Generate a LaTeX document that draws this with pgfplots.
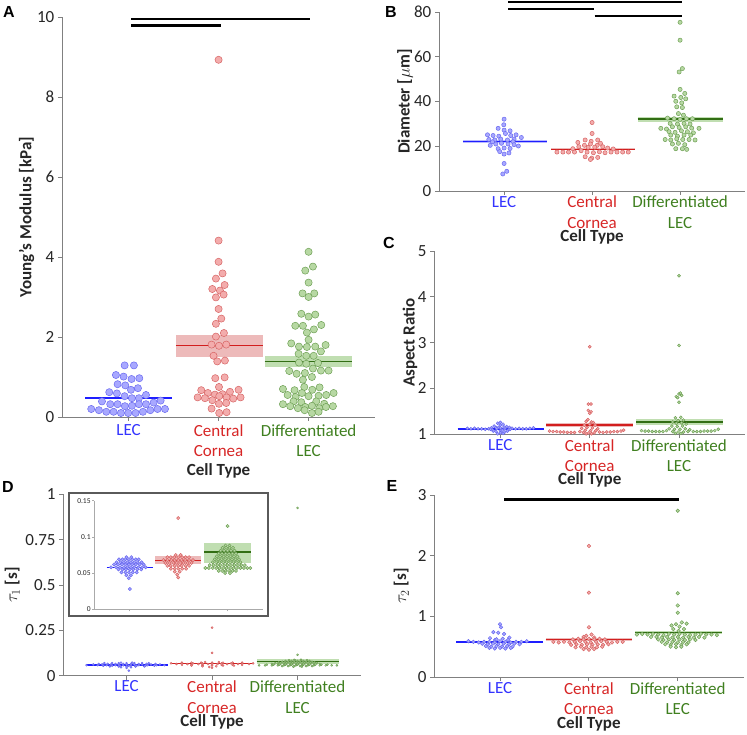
\documentclass[border=0pt]{standalone}
\usepackage{fontspec}
\setmainfont{Carlito}
\newfontfamily\letterfont{Liberation Sans}
\usepackage{pgfplots}
\usepackage{pgfplotstable}
\pgfplotsset{compat=1.18}

\definecolor{axgray}{RGB}{128,128,128}
\definecolor{tickgray}{RGB}{38,38,38}
\definecolor{lecC}{RGB}{51,51,255}
\definecolor{ccC}{RGB}{215,38,38}
\definecolor{dlC}{RGB}{64,128,32}
\definecolor{lecfill}{RGB}{168,168,255}
\definecolor{lecedge}{RGB}{105,105,240}
\definecolor{lecband}{RGB}{140,140,255}
\definecolor{lecline}{RGB}{30,30,255}
\definecolor{ccfill}{RGB}{243,172,172}
\definecolor{ccedge}{RGB}{215,100,100}
\definecolor{ccband}{RGB}{225,140,140}
\definecolor{ccline}{RGB}{210,30,30}
\definecolor{dlfill}{RGB}{183,216,163}
\definecolor{dledge}{RGB}{110,160,85}
\definecolor{dlband}{RGB}{150,200,125}
\definecolor{dlline}{RGB}{50,110,20}
\definecolor{framegray}{RGB}{90,90,90}
\definecolor{insetgray}{RGB}{170,170,170}

% ---------------- Panel A: Young's modulus ----------------
\pgfplotstableread{
x y
0.956 1.29
1.059 1.29
0.859 1.05
0.944 1.01
1.033 0.95
1.119 0.97
0.878 0.82
0.963 0.79
0.785 0.62
0.870 0.59
1.026 0.68
1.104 0.72
0.956 0.52
1.037 0.47
1.115 0.47
1.193 0.55
0.704 0.39
0.796 0.32
0.878 0.32
0.959 0.27
1.037 0.28
1.115 0.32
1.193 0.32
1.278 0.36
1.356 0.41
0.585 0.20
0.670 0.17
0.752 0.13
0.833 0.13
0.915 0.10
0.996 0.10
1.078 0.10
1.159 0.13
1.241 0.17
1.322 0.20
1.404 0.20
}\Alec
\pgfplotstableread{
x y
2.000 8.93
2.000 4.41
2.000 3.88
1.970 3.46
2.044 3.59
1.930 3.20
2.015 3.16
2.067 3.30
1.970 2.99
2.056 3.06
2.000 2.70
2.030 2.46
1.970 2.33
1.970 2.01
2.059 2.10
1.922 1.81
2.004 1.78
2.085 1.81
1.944 1.53
1.985 1.39
2.070 1.41
1.963 0.97
2.067 0.99
2.004 0.75
1.807 0.67
1.881 0.60
1.959 0.56
2.044 0.57
2.126 0.63
2.222 0.68
1.767 0.49
1.848 0.47
1.930 0.42
2.007 0.52
2.089 0.49
2.163 0.46
2.244 0.49
1.922 0.21
2.004 0.33
2.085 0.35
2.007 0.10
2.089 0.12
}\Acc
\pgfplotstableread{
x y
3.000 4.13
2.963 3.66
3.048 3.76
3.000 3.36
2.933 3.09
3.063 3.09
3.000 3.00
2.919 2.58
3.000 2.51
3.074 2.56
2.852 2.28
2.937 2.28
3.059 2.19
3.141 2.30
2.981 2.11
3.000 1.93
2.807 1.84
2.893 1.76
2.981 1.75
3.074 1.76
3.189 1.80
3.137 1.64
2.889 1.58
2.974 1.53
3.056 1.53
2.893 1.36
2.974 1.33
3.104 1.35
2.785 1.15
2.867 1.08
2.959 1.10
3.048 1.21
3.137 1.16
3.222 1.16
2.937 0.93
3.037 1.00
2.715 0.70
2.844 0.67
2.952 0.75
3.041 0.68
3.122 0.74
2.767 0.55
2.856 0.50
2.926 0.60
3.000 0.52
3.111 0.53
3.196 0.55
3.278 0.60
2.833 0.39
2.919 0.37
3.085 0.39
3.174 0.33
2.715 0.32
2.796 0.27
2.881 0.22
2.963 0.25
3.037 0.28
3.119 0.22
3.193 0.25
3.270 0.27
3.037 0.10
3.111 0.13
2.956 0.17
}\Adl

% ---------------- Panel B: diameter ----------------
\pgfplotstableread{
x y
1.000 32.1
0.996 29.6
0.932 28.0
1.000 27.2
1.068 26.9
0.811 25.1
0.875 24.8
0.940 24.5
1.015 25.7
1.075 24.8
1.136 25.1
0.826 23.0
0.894 22.8
0.962 23.2
1.038 22.8
1.113 23.2
1.196 23.9
0.868 22.0
1.102 22.0
0.842 20.4
0.906 21.0
0.970 21.3
1.045 21.0
1.113 20.7
1.162 20.1
0.932 18.9
1.000 19.2
1.068 19.0
0.950 17.6
1.055 17.0
1.000 16.5
1.000 12.3
1.030 8.8
0.985 7.6
}\Blec
\pgfplotstableread{
x y
2.000 30.6
2.000 25.7
1.921 22.8
1.989 22.2
2.064 22.8
1.838 21.7
2.095 21.3
1.849 19.8
1.913 20.4
1.981 21.0
2.057 20.4
2.121 19.8
2.177 19.2
1.955 19.5
2.030 19.6
2.240 18.8
1.781 18.9
1.875 18.0
1.943 17.4
2.015 17.1
2.083 17.5
2.147 17.1
1.921 15.3
1.996 14.7
2.064 15.0
1.981 14.1
1.600 17.4
1.668 17.4
1.732 17.4
1.800 17.4
2.215 17.4
2.283 17.4
2.347 17.4
2.411 17.4
}\Bcc
\pgfplotstableread{
x y
3.000 75.4
3.000 67.4
3.026 54.7
2.989 53.2
3.000 45.4
3.053 43.6
2.932 42.4
3.008 41.8
3.064 41.2
2.951 40.1
3.019 39.4
2.962 37.6
3.026 37.3
2.981 34.6
3.038 33.9
2.857 32.6
2.932 32.3
3.000 32.0
3.072 32.3
3.140 32.3
2.887 30.2
2.970 29.9
3.045 30.2
3.113 29.9
2.781 28.0
2.845 27.7
2.913 28.7
2.989 28.4
3.064 28.7
3.132 28.1
3.215 28.0
2.875 26.5
2.943 26.2
3.015 26.9
3.083 26.5
3.151 26.0
2.894 25.0
2.970 24.5
3.045 25.0
3.121 25.0
2.830 23.0
2.894 22.8
2.962 23.3
3.030 23.0
3.102 23.0
3.170 22.8
2.913 21.0
2.981 21.3
3.053 20.7
2.951 18.9
3.026 18.9
3.075 18.6
}\Bdl

% ---------------- Panel C: aspect ratio (offsets) ----------------
\pgfplotstableread{
dx y
-0.37 1.13
-0.33 1.12
-0.29 1.13
-0.25 1.12
-0.21 1.12
-0.17 1.11
-0.13 1.12
0.13 1.13
0.17 1.12
0.21 1.13
0.25 1.12
0.29 1.12
0.33 1.13
0.37 1.14
-0.09 1.10
-0.05 1.15
0.00 1.08
0.05 1.12
0.09 1.10
-0.07 1.18
0.00 1.20
0.07 1.17
-0.03 1.24
0.03 1.22
0.00 1.03
-0.05 1.06
0.05 1.05
0.00 1.26
-0.10 1.14
0.10 1.15
-0.04 1.12
0.04 1.16
-0.02 1.15
0.02 1.09
-0.08 1.07
0.08 1.07
0.00 1.14
-0.03 1.01
0.03 1.02
-0.11 1.11
0.11 1.11
}\Clec
\pgfplotstableread{
dx y
0.00 2.91
-0.015 1.66
0.015 1.66
-0.015 1.52
0.015 1.49
0.00 1.46
-0.04 1.28
0.02 1.27
0.00 1.22
-0.06 1.20
0.06 1.20
-0.03 1.15
0.03 1.14
-0.09 1.13
0.09 1.12
-0.05 1.09
0.01 1.08
0.07 1.08
-0.11 1.06
-0.07 1.04
-0.01 1.03
0.05 1.03
0.11 1.05
-0.04 1.01
0.02 1.01
0.04 1.26
-0.02 1.32
-0.45 1.07
-0.41 1.06
-0.37 1.06
-0.33 1.05
-0.29 1.05
-0.25 1.04
-0.21 1.04
-0.17 1.04
0.15 1.04
0.19 1.05
0.23 1.05
0.27 1.06
0.31 1.06
0.35 1.07
0.38 1.09
}\Ccc
\pgfplotstableread{
dx y
0.00 4.46
0.00 2.94
-0.03 1.82
0.00 1.88
0.03 1.85
0.015 1.90
0.00 1.70
-0.015 1.80
-0.04 1.36
0.02 1.37
-0.01 1.30
0.05 1.31
-0.07 1.27
-0.03 1.24
0.03 1.25
0.08 1.22
-0.08 1.18
-0.02 1.17
0.04 1.18
-0.11 1.12
-0.05 1.11
0.01 1.11
0.07 1.12
0.12 1.10
-0.14 1.08
-0.07 1.06
-0.01 1.05
0.05 1.05
0.10 1.06
-0.04 1.02
0.02 1.02
-0.42 1.08
-0.38 1.07
-0.34 1.07
-0.30 1.06
-0.26 1.06
-0.22 1.06
-0.18 1.06
0.16 1.06
0.20 1.06
0.24 1.06
0.28 1.07
0.32 1.07
0.36 1.07
0.40 1.08
0.44 1.11
}\Cdl

% ---------------- Panel D: tau_1 (offsets) ----------------
\pgfplotstableread{
dx y
-0.05 0.072
0.05 0.072
-0.20 0.069
-0.13 0.069
-0.07 0.069
0.00 0.069
0.07 0.069
0.14 0.069
0.20 0.069
-0.25 0.065
-0.17 0.065
-0.10 0.065
-0.03 0.065
0.04 0.065
0.11 0.065
0.18 0.065
0.26 0.065
-0.30 0.062
-0.22 0.062
-0.14 0.062
-0.07 0.062
0.00 0.062
0.07 0.062
0.14 0.062
0.22 0.062
0.30 0.062
-0.36 0.058
-0.26 0.058
-0.18 0.058
-0.10 0.058
-0.03 0.058
0.04 0.058
0.11 0.058
0.19 0.058
0.27 0.058
0.34 0.058
-0.21 0.055
-0.13 0.055
-0.06 0.055
0.02 0.055
0.09 0.055
0.17 0.055
0.25 0.055
-0.15 0.051
-0.07 0.051
0.00 0.051
0.08 0.051
0.16 0.051
-0.05 0.047
0.04 0.047
0.00 0.043
0.02 0.028
}\Dlec
\pgfplotstableread{
dx y
0.00 0.265
0.00 0.126
-0.05 0.075
0.05 0.075
-0.22 0.072
-0.15 0.072
-0.08 0.072
0.00 0.072
0.08 0.072
0.15 0.072
0.22 0.072
-0.30 0.068
-0.22 0.068
-0.14 0.068
-0.07 0.068
0.00 0.068
0.07 0.068
0.14 0.068
0.22 0.068
0.30 0.068
-0.26 0.064
-0.18 0.064
-0.10 0.064
-0.03 0.064
0.04 0.064
0.11 0.064
0.19 0.064
0.27 0.064
-0.22 0.060
-0.15 0.060
-0.07 0.060
0.00 0.060
0.07 0.060
0.15 0.060
0.22 0.060
-0.15 0.056
-0.07 0.056
0.00 0.056
0.08 0.056
0.16 0.056
-0.07 0.052
0.03 0.052
-0.02 0.048
0.00 0.044
}\Dcc
\pgfplotstableread{
dx y
0.00 0.925
0.00 0.115
-0.04 0.088
0.04 0.088
-0.10 0.085
-0.03 0.085
0.04 0.085
0.11 0.085
-0.14 0.081
-0.07 0.081
0.00 0.081
0.07 0.081
0.14 0.081
-0.18 0.077
-0.11 0.077
-0.04 0.077
0.03 0.077
0.10 0.077
0.17 0.077
-0.22 0.073
-0.15 0.073
-0.08 0.073
-0.01 0.073
0.06 0.073
0.13 0.073
0.20 0.073
-0.26 0.069
-0.19 0.069
-0.12 0.069
-0.05 0.069
0.02 0.069
0.09 0.069
0.16 0.069
0.23 0.069
-0.30 0.065
-0.23 0.065
-0.16 0.065
-0.09 0.065
-0.02 0.065
0.05 0.065
0.12 0.065
0.19 0.065
0.26 0.065
-0.36 0.061
-0.28 0.061
-0.21 0.061
-0.14 0.061
-0.07 0.061
0.00 0.061
0.07 0.061
0.14 0.061
0.21 0.061
0.28 0.061
0.35 0.061
-0.45 0.057
-0.38 0.057
-0.30 0.057
-0.23 0.057
-0.16 0.057
-0.09 0.057
-0.02 0.057
0.05 0.057
0.12 0.057
0.19 0.057
0.26 0.057
0.33 0.057
0.40 0.057
0.46 0.057
-0.18 0.053
-0.11 0.053
-0.04 0.053
0.03 0.053
0.10 0.053
0.17 0.053
-0.05 0.050
0.05 0.050
}\Ddl

% ---------------- Panel E: tau_2 (offsets) ----------------
\pgfplotstableread{
dx y
0.00 0.87
0.01 0.82
-0.075 0.74
-0.02 0.73
0.045 0.71
0.105 0.65
-0.113 0.64
-0.056 0.61
-0.356 0.59
-0.30 0.58
-0.24 0.57
-0.18 0.58
-0.12 0.58
-0.06 0.57
0.00 0.59
0.06 0.58
0.12 0.57
0.18 0.58
0.24 0.58
0.30 0.59
-0.04 0.62
0.03 0.63
0.09 0.61
-0.20 0.55
-0.14 0.54
-0.08 0.55
-0.02 0.54
0.04 0.55
0.10 0.54
0.16 0.55
0.22 0.54
-0.16 0.51
-0.10 0.50
-0.04 0.51
0.02 0.50
0.08 0.51
0.14 0.50
-0.12 0.48
-0.06 0.47
0.00 0.48
0.06 0.47
0.12 0.48
}\Elec
\pgfplotstableread{
dx y
0.00 2.16
0.00 1.39
0.00 0.82
0.03 0.70
-0.03 0.68
-0.06 0.66
0.06 0.65
-0.40 0.58
-0.34 0.57
-0.28 0.58
-0.22 0.57
-0.16 0.58
-0.10 0.59
-0.04 0.58
0.02 0.57
0.08 0.58
0.14 0.59
0.20 0.58
0.26 0.57
0.32 0.58
0.38 0.58
-0.18 0.62
-0.12 0.63
-0.06 0.62
0.00 0.63
0.06 0.62
0.12 0.63
0.18 0.62
-0.20 0.53
-0.14 0.54
-0.08 0.53
-0.02 0.54
0.04 0.53
0.10 0.54
0.16 0.53
0.22 0.54
-0.15 0.49
-0.09 0.50
-0.03 0.49
0.03 0.50
0.09 0.49
0.15 0.50
-0.06 0.46
0.00 0.45
0.06 0.46
}\Ecc
\pgfplotstableread{
dx y
0.00 2.74
0.00 1.38
0.00 1.18
0.00 1.06
0.045 0.90
-0.02 0.87
0.10 0.88
-0.07 0.85
0.02 0.83
-0.05 0.79
0.07 0.79
0.01 0.76
-0.46 0.70
-0.40 0.71
-0.34 0.70
-0.28 0.71
-0.22 0.70
-0.16 0.69
-0.10 0.71
-0.04 0.70
0.02 0.71
0.08 0.70
0.14 0.69
0.20 0.70
0.26 0.71
0.32 0.70
0.38 0.70
0.44 0.69
-0.30 0.66
-0.24 0.66
-0.18 0.65
-0.12 0.66
-0.06 0.65
0.00 0.66
0.06 0.65
0.12 0.66
0.18 0.65
0.24 0.66
0.30 0.65
-0.22 0.62
-0.16 0.61
-0.10 0.62
-0.04 0.61
0.02 0.62
0.08 0.61
0.14 0.62
0.20 0.61
-0.18 0.58
-0.12 0.57
-0.06 0.58
0.00 0.57
0.06 0.58
0.12 0.57
-0.14 0.54
-0.08 0.53
-0.02 0.54
0.04 0.53
0.10 0.54
-0.08 0.50
-0.02 0.49
0.04 0.50
}\Edl

\pgfplotsset{
  pts/.style 2 args={only marks, mark=*, mark size=#2,
    mark options={fill=#1fill, draw=#1edge, line width=0.5pt}},
  panel/.style={
    scale only axis, clip=false,
    axis x line*=bottom, axis y line*=left,
    axis line style={draw=axgray, line width=0.9pt, -},
    tick style={draw=axgray, line width=0.9pt},
    tick align=outside, major tick length=4pt,
    xmin=0.26, xmax=3.74, xtick={1,2,3},
    xticklabels={{\textcolor{lecC}{LEC}},{\textcolor{ccC}{Central}\\\textcolor{ccC}{Cornea}},{\textcolor{dlC}{Differentiated}\\\textcolor{dlC}{LEC}}},
    xticklabel style={align=center, anchor=north, inner sep=0pt, font=\fontsize{17}{20.5}\selectfont},
    yticklabel style={font=\fontsize{17}{20}\selectfont, text=tickgray, inner sep=3.5pt},
    /pgf/number format/assume math mode=true,
    xlabel={Cell Type},
    xlabel style={font=\bfseries\fontsize{17}{20}\selectfont, text=black!85, at={(axis description cs:0.5,0)}, anchor=center},
    ylabel style={font=\bfseries\fontsize{17}{20}\selectfont, text=black!85, at={(axis description cs:0,0.5)}, anchor=center},
  },
}

\newcommand{\meanband}[6]{%
  \addplot[draw=none, fill=#1band, fill opacity=0.6] coordinates {(#2,#4) (#3,#4) (#3,#5) (#2,#5)} -- cycle;
  \addplot[draw=#1line, line width=1.4pt] coordinates {(#2,#6) (#3,#6)};
}

\begin{document}
\begin{tikzpicture}
\path[use as bounding box] (0pt,0pt) rectangle (747pt,734pt);

% ===== Panel A =====
\begin{axis}[panel, at={(62pt,317pt)}, anchor=south west, width=313.2pt, height=400pt,
  ymin=0, ymax=10, ytick={0,2,4,6,8,10},
  ylabel={Young's Modulus [kPa]}, ylabel style={yshift=35.3pt},
  xlabel style={yshift=-53.7pt}, xticklabel style={yshift=-3pt}]
  \addplot[pts={lec}{3.6pt}] table {\Alec};
  \meanband{lec}{0.52}{1.48}{0.44}{0.51}{0.47}
  \addplot[pts={cc}{3.6pt}] table {\Acc};
  \meanband{cc}{1.526}{2.489}{1.50}{2.05}{1.78}
  \addplot[pts={dl}{3.6pt}] table {\Adl};
  \meanband{dl}{2.511}{3.481}{1.25}{1.53}{1.39}
  \addplot[black, line width=2.8pt] coordinates {(1.03,9.95) (3.02,9.95)};
  \addplot[black, line width=2.8pt] coordinates {(1.03,9.78) (2.03,9.78)};
\end{axis}

% ===== Panel B =====
\begin{axis}[panel, at={(439pt,543pt)}, anchor=south west, width=306.2pt, height=179pt,
  ymin=0, ymax=80, ytick={0,20,40,60,80},
  ylabel={Diameter [$\mu$m]}, ylabel style={yshift=34pt},
  xlabel style={yshift=-46.3pt}, xticklabel style={yshift=-1pt}]
  \addplot[pts={lec}{2.1pt}] table {\Blec};
  \meanband{lec}{0.53}{1.49}{21.4}{22.6}{22.0}
  \addplot[pts={cc}{2.1pt}] table {\Bcc};
  \meanband{cc}{1.536}{2.487}{18.2}{19.0}{18.6}
  \addplot[pts={dl}{2.1pt}] table {\Bdl};
  \meanband{dl}{2.517}{3.491}{30.7}{33.1}{32.1}
  \addplot[black, line width=2.8pt] coordinates {(1.045,84.5) (3.02,84.5)};
  \addplot[black, line width=2.8pt] coordinates {(1.045,81.3) (2.02,81.3)};
  \addplot[black, line width=2.8pt] coordinates {(2.03,78.2) (3.02,78.2)};
\end{axis}

% ===== Panel C =====
\begin{axis}[panel, at={(434.3pt,299.7pt)}, anchor=south west, width=310.8pt, height=183.3pt,
  ymin=1, ymax=5, ytick={1,2,3,4,5},
  ylabel={Aspect Ratio}, ylabel style={yshift=24.3pt},
  xlabel style={yshift=-45.7pt}, xticklabel style={yshift=-1pt}]
  \addplot[pts={lec}{1.5pt}] table[x expr=1+\thisrow{dx}, y=y] {\Clec};
  \meanband{lec}{0.52}{1.485}{1.11}{1.13}{1.12}
  \addplot[pts={cc}{1.5pt}] table[x expr=2+\thisrow{dx}, y=y] {\Ccc};
  \meanband{cc}{1.515}{2.49}{1.16}{1.24}{1.20}
  \addplot[pts={dl}{1.5pt}] table[x expr=3+\thisrow{dx}, y=y] {\Cdl};
  \meanband{dl}{2.522}{3.49}{1.21}{1.33}{1.27}
\end{axis}

% ===== Panel D (main) =====
\begin{axis}[panel, at={(63.3pt,58.3pt)}, anchor=south west, width=297.5pt, height=181.4pt,
  ymin=0, ymax=1, ytick={0,0.25,0.5,0.75,1}, yticklabels={0,0.25,0.5,0.75,1},
  ylabel={$\tau_{1}$ [s]}, ylabel style={yshift=51pt},
  xlabel style={yshift=-46.6pt}, xticklabel style={yshift=-1pt}]
  \addplot[pts={lec}{1.0pt}] table[x expr=1+1.3*\thisrow{dx}, y=y] {\Dlec};
  \meanband{lec}{0.52}{1.48}{0.055}{0.061}{0.058}
  \addplot[pts={cc}{1.0pt}] table[x expr=2+1.6*\thisrow{dx}, y=y] {\Dcc};
  \meanband{cc}{1.52}{2.49}{0.063}{0.072}{0.067}
  \addplot[pts={dl}{1.0pt}] table[x expr=3+\thisrow{dx}, y=y] {\Ddl};
  \meanband{dl}{2.52}{3.49}{0.065}{0.093}{0.079}
\end{axis}

% inset frame
\filldraw[draw=framegray, fill=white, line width=1.3pt] (69pt,118pt) rectangle (268pt,241pt);

% ===== Panel D (inset) =====
\begin{axis}[scale only axis, at={(94.3pt,124.7pt)}, anchor=south west, width=168.8pt, height=108.6pt,
  xmin=0.3, xmax=3.72, ymin=0, ymax=0.15,
  axis x line*=bottom, axis y line*=left,
  axis line style={draw=insetgray, line width=0.6pt, -},
  tick style={draw=insetgray, line width=0.6pt},
  tick align=outside, major tick length=2pt,
  xtick={1,2,3}, xticklabels={},
  ytick={0,0.05,0.1,0.15}, yticklabels={0,0.05,0.1,0.15},
  yticklabel style={font=\fontsize{7.5}{9}\selectfont, text=tickgray, inner sep=1.5pt}]
  \addplot[pts={lec}{1.6pt}] table[x expr=1+\thisrow{dx}, y=y] {\Dlec};
  \meanband{lec}{0.55}{1.49}{0.0575}{0.0585}{0.058}
  \addplot[pts={cc}{1.6pt}] table[x expr=2+\thisrow{dx}, y=y] {\Dcc};
  \meanband{cc}{1.53}{2.47}{0.062}{0.073}{0.067}
  \addplot[pts={dl}{1.6pt}] table[x expr=3+\thisrow{dx}, y=y] {\Ddl};
  \meanband{dl}{2.53}{3.47}{0.064}{0.092}{0.079}
\end{axis}

% ===== Panel E =====
\begin{axis}[panel, at={(434.3pt,57pt)}, anchor=south west, width=309.2pt, height=182pt,
  ymin=0, ymax=3, ytick={0,1,2,3},
  ylabel={$\tau_{2}$ [s]}, ylabel style={yshift=33pt},
  xlabel style={yshift=-47pt}, xticklabel style={yshift=-1pt}]
  \addplot[pts={lec}{1.8pt}] table[x expr=1+\thisrow{dx}, y=y] {\Elec};
  \meanband{lec}{0.505}{1.48}{0.57}{0.59}{0.58}
  \addplot[pts={cc}{1.8pt}] table[x expr=2+\thisrow{dx}, y=y] {\Ecc};
  \meanband{cc}{1.512}{2.488}{0.60}{0.65}{0.62}
  \addplot[pts={dl}{1.8pt}] table[x expr=3+\thisrow{dx}, y=y] {\Edl};
  \meanband{dl}{2.52}{3.50}{0.71}{0.76}{0.73}
  \addplot[black, line width=2.8pt] coordinates {(1.045,2.92) (3.01,2.92)};
\end{axis}

% panel letters
\node[font=\letterfont\bfseries\fontsize{16}{18}\selectfont] at (9pt,722pt) {A};
\node[font=\letterfont\bfseries\fontsize{16}{18}\selectfont] at (391pt,722pt) {B};
\node[font=\letterfont\bfseries\fontsize{16}{18}\selectfont] at (389pt,491pt) {C};
\node[font=\letterfont\bfseries\fontsize{16}{18}\selectfont] at (8pt,247pt) {D};
\node[font=\letterfont\bfseries\fontsize{16}{18}\selectfont] at (392pt,248pt) {E};
\end{tikzpicture}
\end{document}
